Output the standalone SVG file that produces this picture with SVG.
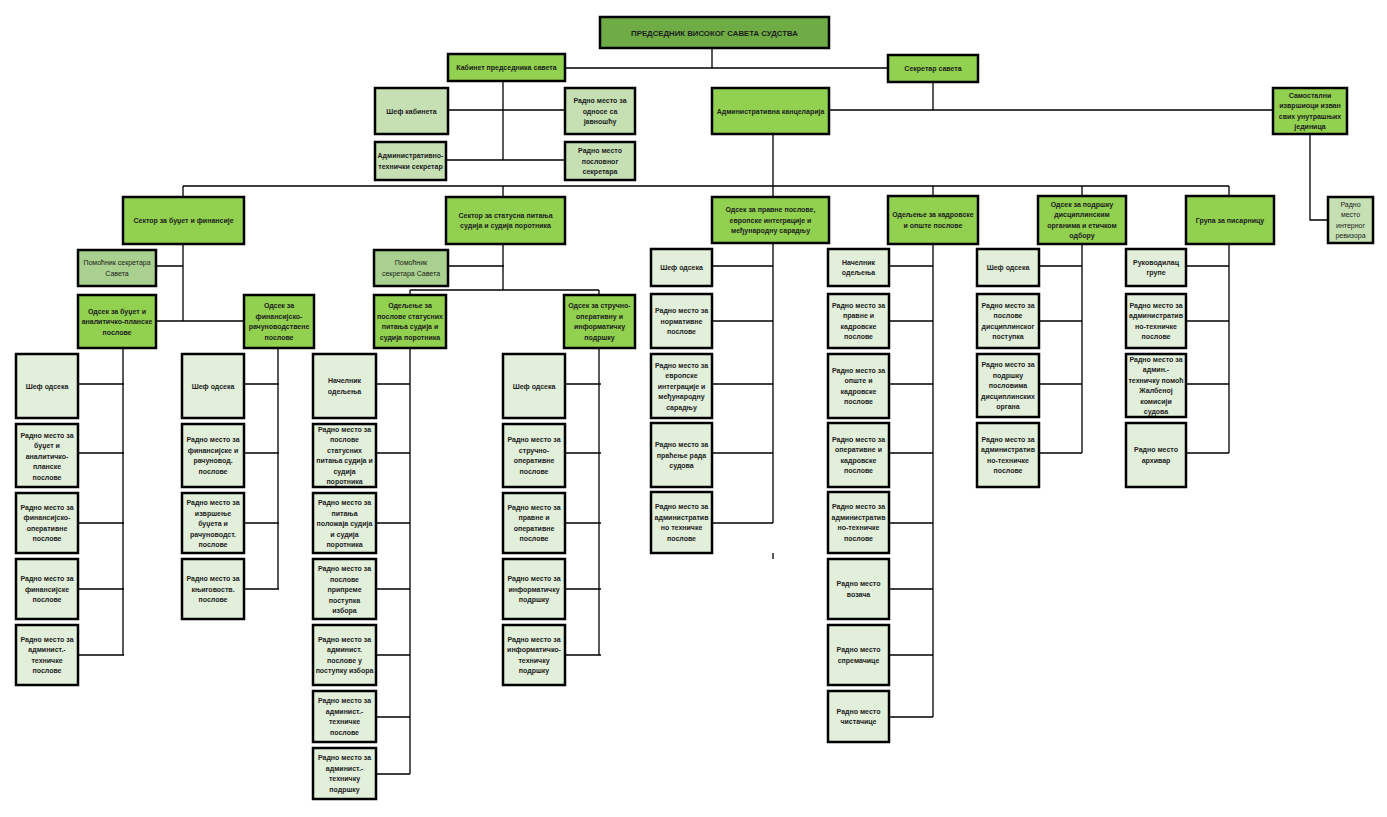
<svg xmlns="http://www.w3.org/2000/svg" width="1387" height="817" viewBox="0 0 1387 817">
<style>
.bx{stroke:#000;stroke-width:2.5}
.h{fill:#6FAC46}.g{fill:#92D050}.s{fill:#C6E0B4}.a{fill:#A9D08E}.l{fill:#E2EFDA}
text{font-family:"Liberation Sans",Arial,sans-serif;font-size:7px;font-weight:bold;fill:#1c1c1c;text-anchor:middle}
.r{font-weight:normal}
.c{stroke:#000;stroke-width:1.3;fill:none}
</style>
<rect width="1387" height="817" fill="#fff"/>
<g id="connectors">
<path class="c" d="M712 48V68M565 68H888M503 81V160M448 110H565M446 160H565M933 82V110M829 110H1273M773 134V197M1310 134V220H1328M183 186H1229M183 186V197M503 186V197M933 186V196M1082 186V196M1229 186V196M183 244V321M156 266H183M156 321H244M123 348V655M78 384H124M78 453H124M78 523H124M78 589H124M78 655H124M278 348V589M244 384H279M244 453H279M244 523H279M244 589H279M503 244V290M448 266H504M410 290H599M410 290V295M599 290V295M410 348V774M376 384H410M376 453H410M376 523H410M376 589H410M376 655H410M376 717H410M376 774H410M599 348V655M565 384H601M565 453H601M565 523H601M565 589H601M565 655H601M773 243V523M712 266H773M712 321H773M712 384H773M712 453H773M712 523H773M773 553V559M933 244V717M889 266H933M889 321H933M889 384H933M889 453H933M889 523H933M889 589H933M889 655H933M889 717H933M1082 244V453M1039 266H1082M1039 321H1082M1039 384H1082M1039 453H1082M1229 244V453M1186 266H1229M1186 321H1229M1186 384H1229M1186 453H1229"/>
</g>
<g id="head"><rect class="bx h" x="600" y="17" width="229" height="31"/><text x="714.5" y="35.5" style="font-size:7.8px">ПРЕДСЕДНИК ВИСОКОГ САВЕТА СУДСТВА</text></g>
<g id="kabinet"><rect class="bx g" x="448" y="54" width="117" height="27"/><text x="506.5" y="70">Кабинет председника савета</text></g>
<g id="sekretar"><rect class="bx g" x="888" y="55" width="90" height="27"/><text x="933" y="71">Секретар савета</text></g>
<g id="sefkabineta"><rect class="bx s" x="375" y="88" width="73" height="46"/><text x="411.5" y="113.5">Шеф кабинета</text></g>
<g id="odnosi"><rect class="bx s" x="565" y="88" width="70" height="46"/><text><tspan x="600" y="103">Радно место за</tspan><tspan x="600" y="113.5">односе са</tspan><tspan x="600" y="124">јавношћу</tspan></text></g>
<g id="admtehsek"><rect class="bx s" x="375" y="142" width="71" height="38"/><text><tspan x="410.5" y="158.2">Административно-</tspan><tspan x="410.5" y="168.8">технички секретар</tspan></text></g>
<g id="poslsek"><rect class="bx s" x="565" y="142" width="70" height="38"/><text><tspan x="600" y="153">Радно место</tspan><tspan x="600" y="163.5">пословног</tspan><tspan x="600" y="174">секретара</tspan></text></g>
<g id="admkanc"><rect class="bx g" x="712" y="88" width="117" height="46"/><text x="770.5" y="113.5">Административна канцеларија</text></g>
<g id="samostalni"><rect class="bx g" x="1273" y="88" width="74" height="46"/><text><tspan x="1310" y="97.8">Самостални</tspan><tspan x="1310" y="108.3">извршиоци изван</tspan><tspan x="1310" y="118.8">свих унутрашњих</tspan><tspan x="1310" y="129.3">јединица</tspan></text></g>
<g id="revizor"><rect class="bx s" x="1328" y="197" width="45" height="46"/><text class="r"><tspan x="1350.5" y="206.8">Радно</tspan><tspan x="1350.5" y="217.3">место</tspan><tspan x="1350.5" y="227.8">интерног</tspan><tspan x="1350.5" y="238.3">ревизора</tspan></text></g>

<g id="sektorbudzet"><rect class="bx g" x="123" y="197" width="121" height="47"/><text x="183.5" y="223">Сектор за буџет и финансије</text></g>
<g id="sektorstatus"><rect class="bx g" x="446" y="197" width="119" height="47"/><text><tspan x="505.5" y="217.8">Сектор за статусна питања</tspan><tspan x="505.5" y="228.3">судија и судија поротника</tspan></text></g>
<g id="odsekpravne"><rect class="bx g" x="712" y="197" width="117" height="46"/><text><tspan x="770.5" y="212">Одсек за правне послове,</tspan><tspan x="770.5" y="222.5">европске интеграције и</tspan><tspan x="770.5" y="233">међународну сарадњу</tspan></text></g>
<g id="odeljenjekadr"><rect class="bx g" x="888" y="196" width="90" height="48"/><text><tspan x="933" y="217.3">Одељење за кадровске</tspan><tspan x="933" y="227.8">и опште послове</tspan></text></g>
<g id="odsekpodrska"><rect class="bx g" x="1038" y="196" width="88" height="48"/><text><tspan x="1082" y="206.8">Одсек за подршку</tspan><tspan x="1082" y="217.3">дисциплинским</tspan><tspan x="1082" y="227.8">органима и етичком</tspan><tspan x="1082" y="238.3">одбору</tspan></text></g>
<g id="grupa"><rect class="bx g" x="1186" y="196" width="88" height="48"/><text x="1230" y="222.5">Група за писарницу</text></g>

<g id="pomocnik1"><rect class="bx a" x="78" y="250" width="78" height="36"/><text class="r"><tspan x="117" y="265.3">Помоћник секретара</tspan><tspan x="117" y="275.8">Савета</tspan></text></g>
<g id="odsekbudzet"><rect class="bx g" x="78" y="295" width="78" height="53"/><text><tspan x="117" y="313.5">Одсек за буџет и</tspan><tspan x="117" y="324">аналитичко-планске</tspan><tspan x="117" y="334.5">послове</tspan></text></g>
<g id="odsekfin"><rect class="bx g" x="244" y="295" width="70" height="53"/><text><tspan x="279" y="308.3">Одсек за</tspan><tspan x="279" y="318.8">финансијско-</tspan><tspan x="279" y="329.3">рачуноводствене</tspan><tspan x="279" y="339.8">послове</tspan></text></g>

<g id="a1"><rect class="bx l" x="16" y="354" width="62" height="64"/><text x="47" y="388.5">Шеф одсека</text></g>
<g id="a2"><rect class="bx l" x="16" y="424" width="62" height="63"/><text><tspan x="47" y="437.5">Радно место за</tspan><tspan x="47" y="448">буџет и</tspan><tspan x="47" y="458.5">аналитичко-</tspan><tspan x="47" y="469">планске</tspan><tspan x="47" y="479.5">послове</tspan></text></g>
<g id="a3"><rect class="bx l" x="16" y="493" width="62" height="60"/><text><tspan x="47" y="509.8">Радно место за</tspan><tspan x="47" y="520.3">финансијско-</tspan><tspan x="47" y="530.8">оперативне</tspan><tspan x="47" y="541.3">послове</tspan></text></g>
<g id="a4"><rect class="bx l" x="16" y="559" width="62" height="60"/><text><tspan x="47" y="581">Радно место за</tspan><tspan x="47" y="591.5">финансијске</tspan><tspan x="47" y="602">послове</tspan></text></g>
<g id="a5"><rect class="bx l" x="16" y="625" width="62" height="60"/><text><tspan x="47" y="641.8">Радно место за</tspan><tspan x="47" y="652.3">админист.-</tspan><tspan x="47" y="662.8">техничке</tspan><tspan x="47" y="673.3">послове</tspan></text></g>

<g id="b1"><rect class="bx l" x="182" y="354" width="62" height="64"/><text x="213" y="388.5">Шеф одсека</text></g>
<g id="b2"><rect class="bx l" x="182" y="424" width="62" height="63"/><text><tspan x="213" y="442.3">Радно место за</tspan><tspan x="213" y="452.8">финансијске и</tspan><tspan x="213" y="463.3">рачуновод.</tspan><tspan x="213" y="473.8">послове</tspan></text></g>
<g id="b3"><rect class="bx l" x="182" y="493" width="62" height="60"/><text><tspan x="213" y="505">Радно место за</tspan><tspan x="213" y="515.5">извршење</tspan><tspan x="213" y="526">буџета и</tspan><tspan x="213" y="536.5">рачуноводст.</tspan><tspan x="213" y="547">послове</tspan></text></g>
<g id="b4"><rect class="bx l" x="182" y="559" width="62" height="60"/><text><tspan x="213" y="581">Радно место за</tspan><tspan x="213" y="591.5">књиговоств.</tspan><tspan x="213" y="602">послове</tspan></text></g>

<g id="pomocnik2"><rect class="bx a" x="374" y="250" width="74" height="36"/><text class="r"><tspan x="411" y="265.3">Помоћник</tspan><tspan x="411" y="275.8">секретара Савета</tspan></text></g>
<g id="odeljenjestatus"><rect class="bx g" x="374" y="295" width="72" height="53"/><text><tspan x="410" y="308.3">Одељење за</tspan><tspan x="410" y="318.8">послове статусних</tspan><tspan x="410" y="329.3">питања судија и</tspan><tspan x="410" y="339.8">судија поротника</tspan></text></g>
<g id="odsekstrucno"><rect class="bx g" x="564" y="295" width="71" height="53"/><text><tspan x="599.5" y="308.3">Одсек за стручно-</tspan><tspan x="599.5" y="318.8">оперативну и</tspan><tspan x="599.5" y="329.3">информатичку</tspan><tspan x="599.5" y="339.8">подршку</tspan></text></g>

<g id="c1"><rect class="bx l" x="313" y="354" width="63" height="64"/><text><tspan x="344.5" y="383.3">Начелник</tspan><tspan x="344.5" y="393.8">одељења</tspan></text></g>
<g id="c2"><rect class="bx l" x="313" y="424" width="63" height="63"/><text><tspan x="344.5" y="431.8">Радно место за</tspan><tspan x="344.5" y="442.3">послове</tspan><tspan x="344.5" y="452.8">статусних</tspan><tspan x="344.5" y="463.3">питања судија и</tspan><tspan x="344.5" y="473.8">судија</tspan><tspan x="344.5" y="484.3">поротника</tspan></text></g>
<g id="c3"><rect class="bx l" x="313" y="493" width="63" height="60"/><text><tspan x="344.5" y="505">Радно место за</tspan><tspan x="344.5" y="515.5">питања</tspan><tspan x="344.5" y="526">положаја судија</tspan><tspan x="344.5" y="536.5">и судија</tspan><tspan x="344.5" y="547">поротника</tspan></text></g>
<g id="c4"><rect class="bx l" x="313" y="559" width="63" height="60"/><text><tspan x="344.5" y="571">Радно место за</tspan><tspan x="344.5" y="581.5">послове</tspan><tspan x="344.5" y="592">припреме</tspan><tspan x="344.5" y="602.5">поступка</tspan><tspan x="344.5" y="613">избора</tspan></text></g>
<g id="c5"><rect class="bx l" x="313" y="625" width="63" height="60"/><text><tspan x="344.5" y="641.8">Радно место за</tspan><tspan x="344.5" y="652.3">админист.</tspan><tspan x="344.5" y="662.8">послове у</tspan><tspan x="344.5" y="673.3">поступку избора</tspan></text></g>
<g id="c6"><rect class="bx l" x="313" y="691" width="63" height="51"/><text><tspan x="344.5" y="703.3">Радно место за</tspan><tspan x="344.5" y="713.8">админист.-</tspan><tspan x="344.5" y="724.3">техничке</tspan><tspan x="344.5" y="734.8">послове</tspan></text></g>
<g id="c7"><rect class="bx l" x="313" y="748" width="63" height="51"/><text><tspan x="344.5" y="760.3">Радно место за</tspan><tspan x="344.5" y="770.8">админист.-</tspan><tspan x="344.5" y="781.3">техничку</tspan><tspan x="344.5" y="791.8">подршку</tspan></text></g>

<g id="d1"><rect class="bx l" x="503" y="354" width="62" height="64"/><text x="534" y="388.5">Шеф одсека</text></g>
<g id="d2"><rect class="bx l" x="503" y="424" width="62" height="63"/><text><tspan x="534" y="442.3">Радно место за</tspan><tspan x="534" y="452.8">стручно-</tspan><tspan x="534" y="463.3">оперативне</tspan><tspan x="534" y="473.8">послове</tspan></text></g>
<g id="d3"><rect class="bx l" x="503" y="493" width="62" height="60"/><text><tspan x="534" y="509.8">Радно место за</tspan><tspan x="534" y="520.3">правне и</tspan><tspan x="534" y="530.8">оперативне</tspan><tspan x="534" y="541.3">послове</tspan></text></g>
<g id="d4"><rect class="bx l" x="503" y="559" width="62" height="60"/><text><tspan x="534" y="581">Радно место за</tspan><tspan x="534" y="591.5">информатичку</tspan><tspan x="534" y="602">подршку</tspan></text></g>
<g id="d5"><rect class="bx l" x="503" y="625" width="62" height="60"/><text><tspan x="534" y="641.8">Радно место за</tspan><tspan x="534" y="652.3">информатичко-</tspan><tspan x="534" y="662.8">техничку</tspan><tspan x="534" y="673.3">подршку</tspan></text></g>

<g id="e1"><rect class="bx l" x="651" y="249" width="61" height="37"/><text x="681.5" y="270">Шеф одсека</text></g>
<g id="e2"><rect class="bx l" x="651" y="294" width="61" height="54"/><text><tspan x="681.5" y="313">Радно место за</tspan><tspan x="681.5" y="323.5">нормативне</tspan><tspan x="681.5" y="334">послове</tspan></text></g>
<g id="e3"><rect class="bx l" x="651" y="354" width="61" height="64"/><text><tspan x="681.5" y="367.5">Радно место за</tspan><tspan x="681.5" y="378">европске</tspan><tspan x="681.5" y="388.5">интеграције и</tspan><tspan x="681.5" y="399">међународну</tspan><tspan x="681.5" y="409.5">сарадњу</tspan></text></g>
<g id="e4"><rect class="bx l" x="651" y="423" width="61" height="64"/><text><tspan x="681.5" y="447">Радно место за</tspan><tspan x="681.5" y="457.5">праћење рада</tspan><tspan x="681.5" y="468">судова</tspan></text></g>
<g id="e5"><rect class="bx l" x="651" y="492" width="61" height="61"/><text><tspan x="681.5" y="509.3">Радно место за</tspan><tspan x="681.5" y="519.8">административ</tspan><tspan x="681.5" y="530.3">но техничке</tspan><tspan x="681.5" y="540.8">послове</tspan></text></g>

<g id="f1"><rect class="bx l" x="828" y="249" width="61" height="37"/><text><tspan x="858.5" y="264.8">Начелник</tspan><tspan x="858.5" y="275.3">одељења</tspan></text></g>
<g id="f2"><rect class="bx l" x="828" y="294" width="61" height="54"/><text><tspan x="858.5" y="307.8">Радно место за</tspan><tspan x="858.5" y="318.3">правне и</tspan><tspan x="858.5" y="328.8">кадровске</tspan><tspan x="858.5" y="339.3">послове</tspan></text></g>
<g id="f3"><rect class="bx l" x="828" y="354" width="61" height="64"/><text><tspan x="858.5" y="372.8">Радно место за</tspan><tspan x="858.5" y="383.3">опште и</tspan><tspan x="858.5" y="393.8">кадровске</tspan><tspan x="858.5" y="404.3">послове</tspan></text></g>
<g id="f4"><rect class="bx l" x="828" y="423" width="61" height="64"/><text><tspan x="858.5" y="441.8">Радно место за</tspan><tspan x="858.5" y="452.3">оперативне и</tspan><tspan x="858.5" y="462.8">кадровске</tspan><tspan x="858.5" y="473.3">послове</tspan></text></g>
<g id="f5"><rect class="bx l" x="828" y="492" width="61" height="61"/><text><tspan x="858.5" y="509.3">Радно место за</tspan><tspan x="858.5" y="519.8">административ</tspan><tspan x="858.5" y="530.3">но-техничке</tspan><tspan x="858.5" y="540.8">послове</tspan></text></g>
<g id="f6"><rect class="bx l" x="828" y="559" width="61" height="60"/><text><tspan x="858.5" y="586.3">Радно место</tspan><tspan x="858.5" y="596.8">возача</tspan></text></g>
<g id="f7"><rect class="bx l" x="828" y="625" width="61" height="60"/><text><tspan x="858.5" y="652.3">Радно место</tspan><tspan x="858.5" y="662.8">спремачице</tspan></text></g>
<g id="f8"><rect class="bx l" x="828" y="691" width="61" height="51"/><text><tspan x="858.5" y="713.8">Радно место</tspan><tspan x="858.5" y="724.3">чистачице</tspan></text></g>

<g id="g1"><rect class="bx l" x="977" y="249" width="62" height="37"/><text x="1008" y="270">Шеф одсека</text></g>
<g id="g2"><rect class="bx l" x="977" y="294" width="62" height="54"/><text><tspan x="1008" y="307.8">Радно место за</tspan><tspan x="1008" y="318.3">послове</tspan><tspan x="1008" y="328.8">дисциплинског</tspan><tspan x="1008" y="339.3">поступка</tspan></text></g>
<g id="g3"><rect class="bx l" x="977" y="354" width="62" height="63"/><text><tspan x="1008" y="367">Радно место за</tspan><tspan x="1008" y="377.5">подршку</tspan><tspan x="1008" y="388">пословима</tspan><tspan x="1008" y="398.5">дисциплинских</tspan><tspan x="1008" y="409">органа</tspan></text></g>
<g id="g4"><rect class="bx l" x="977" y="423" width="62" height="64"/><text><tspan x="1008" y="441.8">Радно место за</tspan><tspan x="1008" y="452.3">административ</tspan><tspan x="1008" y="462.8">но-техничке</tspan><tspan x="1008" y="473.3">послове</tspan></text></g>

<g id="h1"><rect class="bx l" x="1126" y="249" width="60" height="37"/><text><tspan x="1156" y="264.8">Руководилац</tspan><tspan x="1156" y="275.3">групе</tspan></text></g>
<g id="h2"><rect class="bx l" x="1126" y="294" width="60" height="54"/><text><tspan x="1156" y="307.8">Радно место за</tspan><tspan x="1156" y="318.3">административ</tspan><tspan x="1156" y="328.8">но-техничке</tspan><tspan x="1156" y="339.3">послове</tspan></text></g>
<g id="h3"><rect class="bx l" x="1126" y="354" width="60" height="63"/><text><tspan x="1156" y="361.8">Радно место за</tspan><tspan x="1156" y="372.3">админ.-</tspan><tspan x="1156" y="382.8">техничку помоћ</tspan><tspan x="1156" y="393.3">Жалбеној</tspan><tspan x="1156" y="403.8">комисији</tspan><tspan x="1156" y="414.3">судова</tspan></text></g>
<g id="h4"><rect class="bx l" x="1126" y="423" width="60" height="64"/><text><tspan x="1156" y="452.3">Радно место</tspan><tspan x="1156" y="462.8">архивар</tspan></text></g>
</svg>
